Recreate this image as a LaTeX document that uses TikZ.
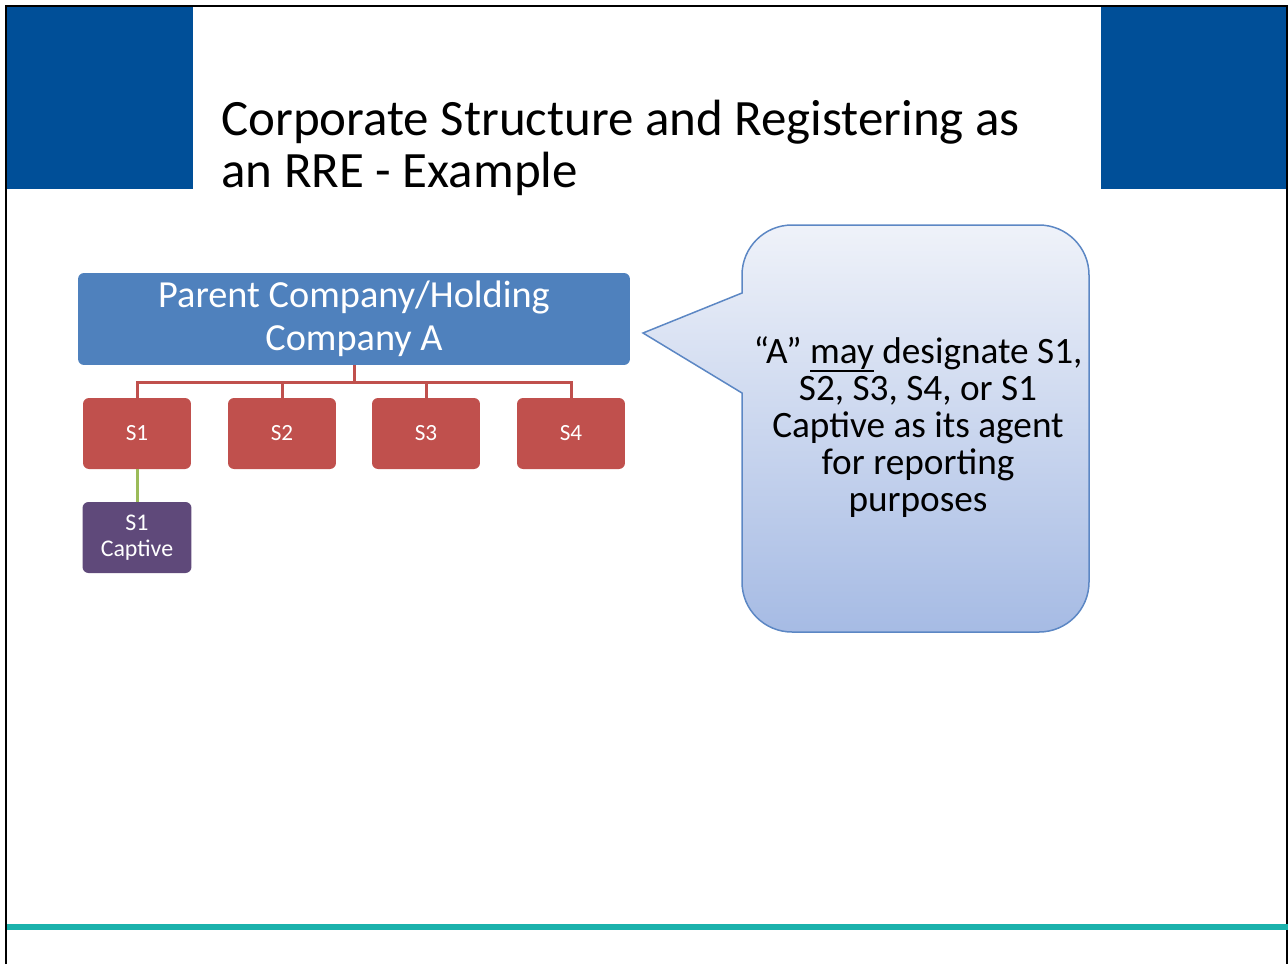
\documentclass[tikz,border=0pt]{standalone}
\usepackage{fontspec}
\setmainfont{Carlito}
\definecolor{hdrblue}{RGB}{0,79,152}
\definecolor{parentblue}{RGB}{79,129,189}
\definecolor{subred}{RGB}{192,80,77}
\definecolor{capviolet}{RGB}{95,73,122}
\definecolor{lnkgreen}{RGB}{155,187,89}
\definecolor{tealline}{RGB}{27,178,172}
\definecolor{calltop}{RGB}{239,242,249}
\definecolor{callbot}{RGB}{166,187,228}
\definecolor{callborder}{RGB}{92,135,196}
\newcommand\myul[1]{\setbox0\hbox{#1}\rlap{\rule[-0.24em]{\wd0}{0.055em}}\box0\relax}
\tikzset{
  boxbase/.style={rounded corners=0.12cm, inner sep=0pt, text=white, align=center},
  parentbox/.style={boxbase, fill=parentblue, minimum width=11.04cm, minimum height=1.84cm,
     font=\fontsize{21.8}{24.6}\selectfont},
  subbox/.style={boxbase, fill=subred, minimum width=2.16cm, minimum height=1.42cm,
     font=\fontsize{13.2}{14.4}\selectfont},
  capbox/.style={boxbase, fill=capviolet, minimum width=2.18cm, minimum height=1.42cm,
     font=\fontsize{13.6}{14.6}\selectfont},
  redlink/.style={draw=subred, line width=0.06cm},
  greenlink/.style={draw=lnkgreen, line width=0.06cm},
  calloutshape/.style={top color=calltop, bottom color=callbot, draw=callborder, line width=0.03cm},
}
\begin{document}
\begin{tikzpicture}[x=0.02cm,y=-0.02cm]
\useasboundingbox (0,0) rectangle (1288,964);
% header blocks
\fill[hdrblue] (7,7) rectangle (193,189);
\fill[hdrblue] (1101,7) rectangle (1287,189);
% frame
\draw[black, line width=0.04cm] (6,964) -- (6,6) -- (1287,6) -- (1287,964);
% title
\node[anchor=north west, inner sep=0pt, align=left, font=\fontsize{29}{29.4}\selectfont]
  (title) at (221,100) {Corporate Structure and Registering as\\an RRE - Example};
% org chart
\node[parentbox] (parent) at (354,319) {Parent Company/Holding\\Company A};
\node[subbox] (s1) at (137,433.5) {S1};
\node[subbox] (s2) at (282,433.5) {S2};
\node[subbox] (s3) at (426,433.5) {S3};
\node[subbox] (s4) at (571,433.5) {S4};
\node[capbox] (cap) at (137,537.5) {S1\\Captive};
\coordinate (bus) at (354,382);
\draw[redlink] (parent.south) -- (bus);
\draw[redlink] (bus) -| (s1.north);
\draw[redlink] (bus) -| (s2.north);
\draw[redlink] (bus) -| (s3.north);
\draw[redlink] (bus) -| (s4.north);
\draw[greenlink] (s1.south) -- (cap.north);
% callout
\path[calloutshape] (742,393) -- (643,333) -- (742,293) -- (742,275)
  .. controls (742,247.4) and (764.4,225) .. (792,225) -- (1039,225)
  .. controls (1066.6,225) and (1089,247.4) .. (1089,275) -- (1089,582)
  .. controls (1089,609.6) and (1066.6,632) .. (1039,632) -- (792,632)
  .. controls (764.4,632) and (742,609.6) .. (742,582) -- cycle;
\node[align=center, inner sep=0pt, font=\fontsize{21.2}{21.05}\selectfont] (callout) at (918,427)
  {“A” \myul{may} designate S1,\\S2, S3, S4, or S1\\Captive as its agent\\for reporting\\purposes};
% bottom rule
\draw[tealline, line width=0.12cm] (7,927) -- (1288,927);
\end{tikzpicture}
\end{document}
